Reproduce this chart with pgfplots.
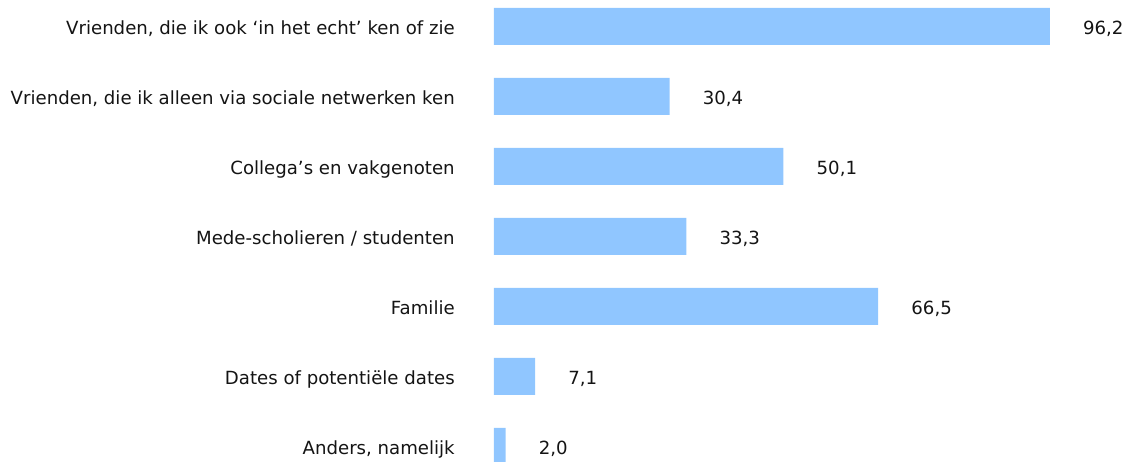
\documentclass[border=0pt]{standalone}
\usepackage{pgfplots}
\pgfplotsset{compat=1.18}
\usepackage{fontspec}
\setmainfont{DejaVu Sans}
\definecolor{barblue}{RGB}{144,198,255}
\definecolor{txt}{RGB}{20,20,20}
\begin{document}
\begin{tikzpicture}
\begin{axis}[
  scale only axis,
  width=474.75pt, height=345.75pt,
  xmin=0, xmax=109.57,
  ymin=-0.376, ymax=6.21,
  y dir=reverse,
  xbar, bar width=27.75pt, bar shift=0pt,
  axis line style={draw=none},
  major tick length=0pt,
  xtick=\empty,
  ytick={0,1,2,3,4,5,6},
  yticklabels={{Vrienden, die ik ook ‘in het echt’ ken of zie},
               {Vrienden, die ik alleen via sociale netwerken ken},
               {Collega’s en vakgenoten},
               {Mede-scholieren / studenten},
               {Familie},
               {Dates of potentiële dates},
               {Anders, namelijk}},
  yticklabel style={anchor=base east, inner sep=0pt, yshift=-6pt, text=txt, font=\fontsize{13.6}{16}\selectfont},
  yticklabel shift=29.25pt,
  nodes near coords,
  point meta=explicit symbolic,
  nodes near coords style={anchor=base west, inner sep=0pt, xshift=24.75pt, yshift=-6pt, text=txt, font=\fontsize{13.6}{16}\selectfont},
]
\addplot[fill=barblue, draw=none] table[x=x, y=y, meta=label] {
x y label
96.2 0 96,2
30.4 1 30,4
50.1 2 50,1
33.3 3 33,3
66.5 4 66,5
7.1 5 7,1
2.0 6 2,0
};
\coordinate (A) at (axis description cs:0,0);
\coordinate (B) at (axis description cs:1,1);
\end{axis}
\pgfresetboundingbox
\path[use as bounding box] ([xshift=-370.5pt]A) rectangle (B);
\end{tikzpicture}
\end{document}
